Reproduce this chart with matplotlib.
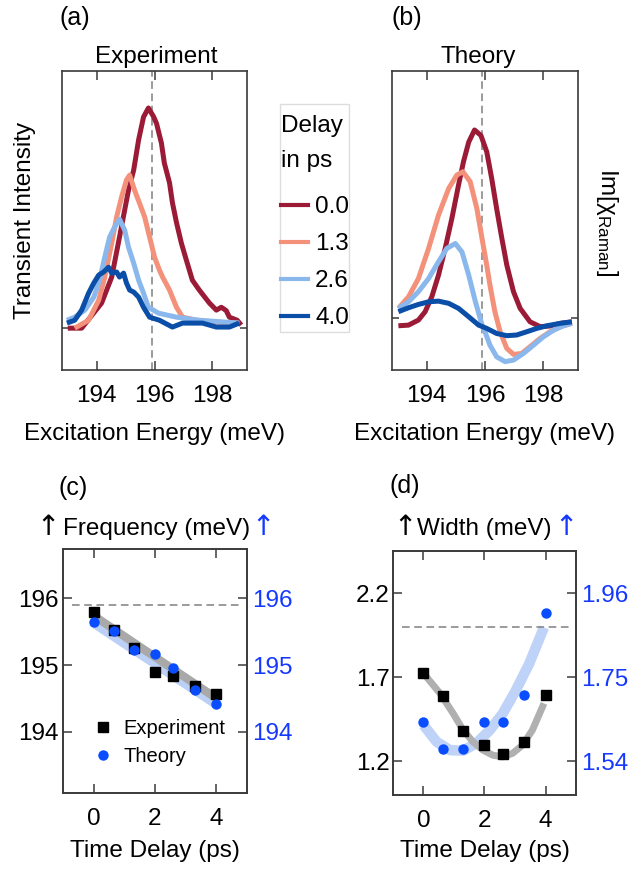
import matplotlib
matplotlib.use('Agg')
import matplotlib.pyplot as plt
from matplotlib.lines import Line2D
from matplotlib.patches import Rectangle

plt.rcParams['font.family'] = ['Liberation Sans', 'DejaVu Sans']
plt.rcParams['mathtext.fontset'] = 'custom'
plt.rcParams['mathtext.rm'] = 'Liberation Sans'
plt.rcParams['mathtext.it'] = 'Liberation Sans'
plt.rcParams['mathtext.bf'] = 'Liberation Sans:bold'

# ---------------- data ----------------
delays = ['0.0', '1.3', '2.6', '4.0']
colors = ['#9b1b37', '#f3917a', '#8ab8ec', '#0b4ea8']

# (a) experiment spectra
exp_E_00 = [193.0, 193.48, 194.17, 194.52, 194.79, 195.10, 195.28, 195.45, 195.62, 195.79, 195.97,
            196.07, 196.24, 196.34, 196.52, 196.62, 196.76, 196.93, 197.10, 197.31, 197.55, 197.90,
            198.14, 198.31, 198.48, 198.59, 198.86, 199.0]
exp_I_00 = [0.0, 0.0, 0.114, 0.232, 0.414, 0.627, 0.718, 0.855, 0.959, 1.0, 0.96, 0.93, 0.84, 0.75,
            0.66, 0.57, 0.48, 0.386, 0.31, 0.218, 0.173, 0.114, 0.082, 0.095, 0.08, 0.05, 0.036, 0.014]
exp_E_13 = [193.24, 193.72, 194.07, 194.28, 194.52, 194.69, 194.86, 195.03, 195.14, 195.31, 195.48,
            195.66, 195.83, 196.0, 196.17, 196.28, 196.52, 196.76, 196.97, 197.45, 198.14, 198.93]
exp_I_13 = [0.0, 0.036, 0.127, 0.232, 0.386, 0.505, 0.595, 0.673, 0.695, 0.627, 0.568, 0.505, 0.414,
            0.323, 0.264, 0.232, 0.173, 0.095, 0.05, 0.036, 0.027, 0.023]
exp_E_26 = [192.97, 193.24, 193.59, 193.90, 194.10, 194.28, 194.45, 194.62, 194.79, 194.97, 195.10,
            195.28, 195.45, 195.62, 195.79, 196.14, 196.76, 197.55, 198.93]
exp_I_26 = [0.036, 0.05, 0.082, 0.141, 0.218, 0.323, 0.414, 0.459, 0.495, 0.445, 0.368, 0.295, 0.218,
            0.159, 0.095, 0.068, 0.05, 0.036, 0.023]
exp_E_40 = [192.97, 193.24, 193.48, 193.72, 193.90, 194.07, 194.24, 194.41, 194.52, 194.69, 194.79,
            194.93, 195.03, 195.14, 195.28, 195.45, 195.62, 195.83, 196.17, 196.62, 196.97, 197.31,
            197.66, 198.14, 198.59, 198.93]
exp_I_40 = [0.023, 0.036, 0.082, 0.159, 0.205, 0.241, 0.255, 0.277, 0.25, 0.255, 0.232, 0.25, 0.205,
            0.173, 0.164, 0.141, 0.095, 0.05, 0.036, 0.005, 0.023, 0.023, 0.023, 0.005, 0.005, 0.023]

# (b) theory spectra
th_E_00 = [193.02, 193.37, 193.71, 193.94, 194.17, 194.40, 194.63, 194.86, 195.09, 195.26, 195.44,
           195.64, 195.86, 196.06, 196.23, 196.40, 196.58, 196.75, 196.98, 197.21, 197.55, 197.90,
           198.24, 198.59, 198.99]
th_I_00 = [-0.035, -0.032, -0.009, 0.029, 0.097, 0.195, 0.317, 0.453, 0.605, 0.711, 0.80, 0.855,
           0.83, 0.756, 0.635, 0.498, 0.362, 0.241, 0.12, 0.044, -0.017, -0.039, -0.036, -0.024, -0.017]
th_E_13 = [193.02, 193.37, 193.71, 194.06, 194.40, 194.75, 195.03, 195.24, 195.49, 195.72, 195.90,
           196.06, 196.17, 196.34, 196.52, 196.75, 196.98, 197.26, 197.55, 197.90, 198.24, 198.59, 198.99]
th_I_13 = [0.044, 0.097, 0.18, 0.317, 0.468, 0.589, 0.65, 0.665, 0.62, 0.498, 0.36, 0.24, 0.15,
           0.029, -0.062, -0.138, -0.165, -0.161, -0.13, -0.092, -0.062, -0.039, -0.024]
th_E_26 = [193.02, 193.37, 193.71, 194.06, 194.40, 194.69, 194.98, 195.21, 195.44, 195.67, 195.90,
           196.0, 196.17, 196.40, 196.69, 196.98, 197.32, 197.67, 198.01, 198.36, 198.70, 198.99]
th_I_26 = [0.044, 0.074, 0.12, 0.18, 0.256, 0.317, 0.339, 0.30, 0.195, 0.074, -0.032, -0.062, -0.123,
           -0.176, -0.198, -0.191, -0.161, -0.123, -0.085, -0.055, -0.035, -0.024]
th_E_40 = [193.02, 193.37, 193.71, 194.06, 194.40, 194.75, 195.09, 195.44, 195.78, 196.06, 196.40,
           196.75, 197.09, 197.44, 197.78, 198.13, 198.59, 198.99]
th_I_40 = [0.029, 0.047, 0.062, 0.074, 0.077, 0.067, 0.044, 0.006, -0.032, -0.047, -0.07, -0.08,
           -0.077, -0.062, -0.047, -0.035, -0.024, -0.017]

energy_ticks = [194, 196, 198]
dashed_energy = 195.9

# (c) frequency
t_delay = [0, 0.65, 1.3, 2.0, 2.6, 3.3, 4.0]
freq_exp = [195.80, 195.53, 195.25, 194.90, 194.83, 194.69, 194.56]
freq_th = [195.64, 195.51, 195.23, 195.17, 194.96, 194.62, 194.42]
freq_fit_t = [0, 4]
freq_exp_fit = [195.74, 194.50]
freq_th_fit = [195.67, 194.45]
freq_ref = 195.9
freq_ticks = [194, 195, 196]

# (d) width
width_exp = [1.724, 1.59, 1.38, 1.297, 1.243, 1.313, 1.596]
width_th = [1.638, 1.571, 1.571, 1.638, 1.638, 1.706, 1.91]
width_exp_fit_t = [0, 0.54, 0.97, 1.30, 1.62, 1.95, 2.27, 2.6, 2.92, 3.25, 3.57, 3.95]
width_exp_fit = [1.724, 1.605, 1.486, 1.386, 1.317, 1.267, 1.237, 1.227, 1.248, 1.297, 1.386, 1.545]
width_th_fit_t = [0, 0.43, 0.87, 1.3, 1.73, 2.17, 2.6, 3.03, 3.47, 3.95]
width_th_fit = [1.631, 1.589, 1.568, 1.567, 1.585, 1.618, 1.66, 1.718, 1.785, 1.875]
width_ref = 2.0
width_ticks_left = [1.2, 1.7, 2.2]
width_ticks_right = [1.54, 1.75, 1.96]
time_ticks = [0, 2, 4]

# ---------------- style ----------------
FS = 17.5
TFS = 17.5
SPINE = '#3a3a3a'
BLUE_TXT = '#1438ff'
W, H = 631, 871

fig = plt.figure(figsize=(W / 100, H / 100), dpi=100)


def ax_rect(x0, y0, x1, y1):
    return [x0 / W, 1 - y1 / H, (x1 - x0) / W, (y1 - y0) / H]


def style(ax):
    for s in ax.spines.values():
        s.set_color(SPINE)
        s.set_linewidth(1.2)
    ax.tick_params(direction='in', length=6.5, width=1.1, color=SPINE, labelsize=TFS)


ax_a = fig.add_axes(ax_rect(62, 71, 247, 370))
ax_b = fig.add_axes(ax_rect(392, 71, 578, 370))
ax_c = fig.add_axes(ax_rect(63, 549, 247, 793))
ax_d = fig.add_axes(ax_rect(393, 551, 576, 795))

exp_sets = [(exp_E_00, exp_I_00), (exp_E_13, exp_I_13), (exp_E_26, exp_I_26), (exp_E_40, exp_I_40)]
th_sets = [(th_E_00, th_I_00), (th_E_13, th_I_13), (th_E_26, th_I_26), (th_E_40, th_I_40)]

for ax, sets, ylim in [(ax_a, exp_sets, (-0.19, 1.168)), (ax_b, th_sets, (-0.236, 1.123))]:
    style(ax)
    for (E, I), c in zip(sets, colors):
        ax.plot(E, I, color=c, lw=3.6, solid_joinstyle='round', solid_capstyle='butt')
    ax.axvline(dashed_energy, color='#808080', lw=1.1, dashes=(5, 3), zorder=0.5)
    ax.set_xlim(192.8, 199.2)
    ax.set_ylim(*ylim)
    ax.set_xticks(energy_ticks)
    ax.set_yticks([0])
    ax.tick_params(axis='x', top=True, bottom=True, pad=10.5)
    ax.tick_params(axis='y', left=True, right=True, labelleft=False, length=5)
    ax.text(0.5, -0.234, 'Excitation Energy (meV)', transform=ax.transAxes, ha='center',
            va='baseline', fontsize=FS)

ax_a.text(0.51, 1.028, 'Experiment', transform=ax_a.transAxes, ha='center', va='baseline', fontsize=FS)
ax_b.text(0.462, 1.028, 'Theory', transform=ax_b.transAxes, ha='center', va='baseline', fontsize=FS)
ax_a.text(-0.2, 0.5, 'Transient Intensity', transform=ax_a.transAxes, rotation=90,
          ha='center', va='center', fontsize=FS)
ax_b.text(1.156, 0.495, r'Im[$\chi_{\mathrm{Raman}}$]', transform=ax_b.transAxes, rotation=270,
          ha='center', va='center', fontsize=FS)

# legend between (a) and (b), with a thin light frame drawn around it
fig.patches.append(Rectangle((280 / W, 1 - 332 / H), 69 / W, 228 / H, transform=fig.transFigure,
                             facecolor='white', edgecolor='#dddddd', lw=1.0, zorder=0))
fig.text(281 / W, 1 - 132 / H, 'Delay', ha='left', va='baseline', fontsize=FS)
fig.text(281 / W, 1 - 167 / H, 'in ps', ha='left', va='baseline', fontsize=FS)
handles = [Line2D([], [], color=c, lw=3) for c in colors]
leg = fig.legend(handles, delays, loc='upper left',
                 bbox_to_anchor=(281 / W, 1 - 196 / H), fontsize=FS,
                 frameon=False, borderpad=0, borderaxespad=0,
                 handlelength=1.1, handletextpad=0.3, labelspacing=0.62)

# (c)
style(ax_c)
ax_c.plot(freq_fit_t, freq_th_fit, color='#bcd0f6', lw=10, solid_capstyle='butt', zorder=1)
ax_c.plot(freq_fit_t, freq_exp_fit, color='#a9a9a9', lw=6, solid_capstyle='butt', zorder=2)
ax_c.plot(t_delay, freq_exp, 's', color='black', ms=7, zorder=3, label='Experiment')
ax_c.plot(t_delay, freq_th, 'o', color='#0a4dff', ms=7.5, mec='none', zorder=4, label='Theory')
ax_c.axhline(freq_ref, xmin=0.05, xmax=0.96, color='#808080', lw=1.1, dashes=(5, 3), zorder=0.5)
ax_c.set_xlim(-1, 5)
ax_c.set_ylim(193.08, 196.74)
ax_c.set_xticks(time_ticks)
ax_c.set_yticks(freq_ticks)
ax_c.tick_params(axis='x', top=True, bottom=True, pad=10.5)
ax_c.tick_params(axis='y', left=True, right=False, pad=3)
ax_c2 = ax_c.twinx()
style(ax_c2)
ax_c2.set_ylim(ax_c.get_ylim())
ax_c2.set_yticks(freq_ticks)
ax_c2.tick_params(axis='y', labelcolor=BLUE_TXT, pad=4)
ax_c.legend(loc='upper left', bbox_to_anchor=(0.175, 0.302), frameon=False, fontsize=14.5,
            handlelength=0.8, handletextpad=0.6, labelspacing=0.45, borderpad=0, borderaxespad=0)
ax_c.text(0.5, -0.262, 'Time Delay (ps)', transform=ax_c.transAxes, ha='center', va='baseline', fontsize=FS)

# (d)
style(ax_d)
ax_d2 = ax_d.twinx()
style(ax_d2)
ax_d2.plot(width_th_fit_t, width_th_fit, color='#bfd2f7', lw=7.5, solid_capstyle='butt', zorder=1)
ax_d2.plot(t_delay, width_th, 'o', color='#0a4dff', ms=7.5, mec='none', zorder=3)
ax_d.plot(width_exp_fit_t, width_exp_fit, color='#b0b0b0', lw=5, solid_capstyle='butt', zorder=2)
ax_d.plot(t_delay, width_exp, 's', color='black', ms=7, zorder=3)
ax_d.axhline(width_ref, xmin=0.05, xmax=0.96, color='#808080', lw=1.1, dashes=(5, 3), zorder=0.5)
ax_d.set_zorder(ax_d2.get_zorder() + 1)
ax_d.patch.set_visible(False)
ax_d.set_xlim(-1, 5)
ax_d.set_ylim(1.0, 2.452)
ax_d2.set_ylim(1.456, 2.066)
ax_d.set_xticks(time_ticks)
ax_d.set_yticks(width_ticks_left)
ax_d.set_yticklabels(['1.2', '1.7', '2.2'])
ax_d2.set_yticks(width_ticks_right)
ax_d2.set_yticklabels(['1.54', '1.75', '1.96'])
ax_d.tick_params(axis='x', top=True, bottom=True, pad=10.5)
ax_d.tick_params(axis='y', left=True, right=False, pad=2.5)
ax_d2.tick_params(axis='y', labelcolor=BLUE_TXT, pad=4)
ax_d.text(0.5, -0.254, 'Time Delay (ps)', transform=ax_d.transAxes, ha='center', va='baseline', fontsize=FS)

# titles of (c) and (d)
ARW = dict(ha='center', va='baseline', fontsize=20, family=['DejaVu Sans'])
fig.text(48 / W, 1 - 535 / H, '\u2191', color='black', **ARW)
fig.text(63 / W, 1 - 535 / H, 'Frequency (meV)', ha='left', va='baseline', fontsize=FS)
fig.text(263 / W, 1 - 535 / H, '\u2191', color=BLUE_TXT, **ARW)
fig.text(405 / W, 1 - 535 / H, '\u2191', color='black', **ARW)
fig.text(417 / W, 1 - 535 / H, 'Width (meV)', ha='left', va='baseline', fontsize=FS)
fig.text(566 / W, 1 - 535 / H, '\u2191', color=BLUE_TXT, **ARW)

# panel labels
fig.text(75 / W, 1 - 25 / H, '(a)', ha='center', va='baseline', fontsize=18)
fig.text(407 / W, 1 - 25 / H, '(b)', ha='center', va='baseline', fontsize=18)
fig.text(73 / W, 1 - 495 / H, '(c)', ha='center', va='baseline', fontsize=18)
fig.text(405 / W, 1 - 493 / H, '(d)', ha='center', va='baseline', fontsize=18)

fig.savefig('out.png', dpi=100)
